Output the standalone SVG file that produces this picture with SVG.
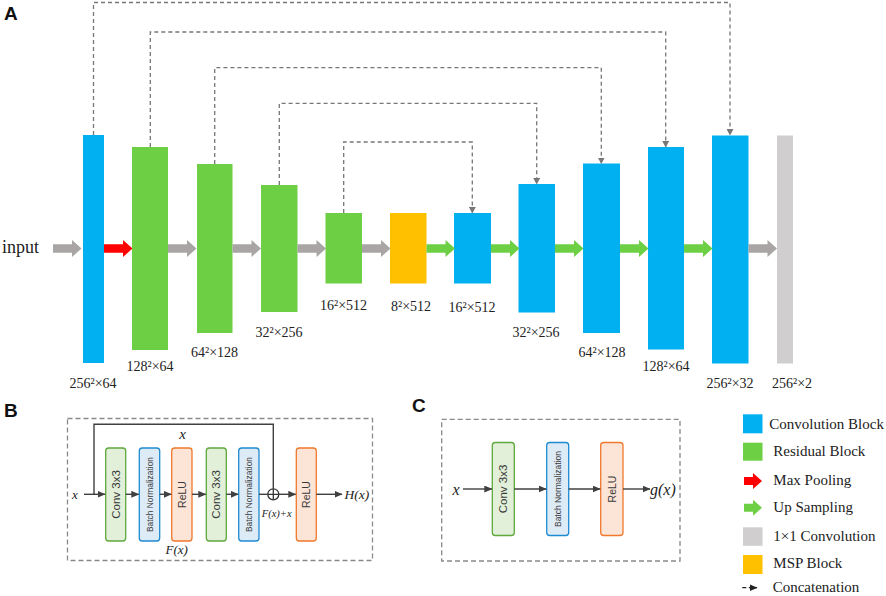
<svg xmlns="http://www.w3.org/2000/svg" xmlns:xlink="http://www.w3.org/1999/xlink" width="886" height="596" viewBox="0 0 886 596">
<style>
.blue{fill:#00B0F0}
.green{fill:#6CCF44}
.yellow{fill:#FFC000}
.gbar{fill:#D0CECE}
.lbl{font-family:"Liberation Serif",serif;font-size:14px;fill:#222;text-anchor:middle}
.leg{font-family:"Liberation Serif",serif;font-size:15px;fill:#222}
.panel{font-family:"Liberation Sans",Arial,sans-serif;font-weight:bold;font-size:19px;fill:#111}
.concat{fill:none;stroke:#777;stroke-width:1.3;stroke-dasharray:4,3}
.frame{fill:none;stroke:#8a8a8a;stroke-width:1.3;stroke-dasharray:5,3}
.ln{fill:none;stroke:#404040;stroke-width:1.4}
.bg{fill:#E2F0D9;stroke:#5EA83C;stroke-width:1.3}
.bb{fill:#DDEBF7;stroke:#1E8AD2;stroke-width:1.3}
.bo{fill:#FCE4D6;stroke:#F0782D;stroke-width:1.3}
.bt{font-family:"Liberation Sans",Arial,sans-serif;fill:#3a3a3a;text-anchor:middle;dominant-baseline:central}
.it{font-family:"Liberation Serif",serif;font-style:italic;fill:#222}
</style>
<defs>
<path id="arr" d="M0,-4.3 H19 V-8.5 L28.5,0 L19,8.5 V4.3 H0 Z"/>
<marker id="mc" markerUnits="userSpaceOnUse" markerWidth="7" markerHeight="7" refX="3.5" refY="6" orient="0" viewBox="0 0 7 7">
<path d="M0,0 L7,0 L3.5,6.5 Z" fill="#777"/>
</marker>
<marker id="ma" markerUnits="userSpaceOnUse" markerWidth="8" markerHeight="7" refX="7.5" refY="3.5" orient="auto" viewBox="0 0 8 7">
<path d="M0,0 L8,3.5 L0,7 Z" fill="#404040"/>
</marker>
<marker id="ml" markerUnits="userSpaceOnUse" markerWidth="8" markerHeight="7" refX="7.5" refY="3.5" orient="auto" viewBox="0 0 8 7">
<path d="M0,0 L8,3.5 L0,7 Z" fill="#222"/>
</marker>
</defs>
<rect width="886" height="596" fill="#fff"/>

<text class="panel" x="4" y="20">A</text>
<text class="panel" x="4" y="417">B</text>
<text class="panel" x="412" y="412">C</text>

<text x="2" y="253" font-family="Liberation Serif,serif" font-size="18" fill="#222">input</text>

<g id="enc1"><rect class="blue" x="83" y="135" width="21" height="228"/><text class="lbl" x="93" y="388">256²×64</text></g>
<g id="enc2"><rect class="green" x="132" y="147" width="36" height="203"/><text class="lbl" x="150" y="371">128²×64</text></g>
<g id="enc3"><rect class="green" x="197" y="164" width="35.5" height="169"/><text class="lbl" x="214.5" y="357">64²×128</text></g>
<g id="enc4"><rect class="green" x="261" y="185" width="36.5" height="127"/><text class="lbl" x="279" y="337">32²×256</text></g>
<g id="enc5"><rect class="green" x="325.5" y="213" width="36.5" height="70.5"/><text class="lbl" x="343.5" y="310">16²×512</text></g>
<g id="msp"><rect class="yellow" x="390" y="213" width="36.5" height="70.5"/><text class="lbl" x="411" y="311">8²×512</text></g>
<g id="dec1"><rect class="blue" x="454" y="213" width="37" height="70.5"/><text class="lbl" x="472" y="311.5">16²×512</text></g>
<g id="dec2"><rect class="blue" x="518.5" y="184" width="36.5" height="128.5"/><text class="lbl" x="536" y="337">32²×256</text></g>
<g id="dec3"><rect class="blue" x="583" y="163.5" width="37" height="169.5"/><text class="lbl" x="602" y="357">64²×128</text></g>
<g id="dec4"><rect class="blue" x="648" y="147" width="36" height="202.5"/><text class="lbl" x="666" y="370.5">128²×64</text></g>
<g id="dec5"><rect class="blue" x="712" y="135.5" width="36.5" height="228"/><text class="lbl" x="730" y="388">256²×32</text></g>
<g id="out"><rect class="gbar" x="777" y="135.5" width="16" height="228"/><text class="lbl" x="792" y="388">256²×2</text></g>

<g id="connectors">
<use xlink:href="#arr" x="53" y="248.5" fill="#A9A5A5"/>
<use xlink:href="#arr" x="104" y="248.5" fill="#FF0000"/>
<use xlink:href="#arr" x="168" y="248.5" fill="#A9A5A5"/>
<use xlink:href="#arr" x="232.5" y="248.5" fill="#A9A5A5"/>
<use xlink:href="#arr" x="297.5" y="248.5" fill="#A9A5A5"/>
<use xlink:href="#arr" x="362" y="248.5" fill="#A9A5A5"/>
<use xlink:href="#arr" x="426.5" y="248.5" fill="#6CCF44"/>
<use xlink:href="#arr" x="491" y="248.5" fill="#6CCF44"/>
<use xlink:href="#arr" x="555" y="248.5" fill="#6CCF44"/>
<use xlink:href="#arr" x="620" y="248.5" fill="#6CCF44"/>
<use xlink:href="#arr" x="684" y="248.5" fill="#6CCF44"/>
<use xlink:href="#arr" x="748.5" y="248.5" fill="#A9A5A5"/>

<path class="concat" d="M93.5,135 V2.5 H730 V135" marker-end="url(#mc)"/>
<path class="concat" d="M150.3,147 V32 H665.7 V147" marker-end="url(#mc)"/>
<path class="concat" d="M214.7,164 V67.7 H601.3 V163.5" marker-end="url(#mc)"/>
<path class="concat" d="M279.3,185 V103.3 H536.7 V184" marker-end="url(#mc)"/>
<path class="concat" d="M343.7,213 V142 H472.3 V213" marker-end="url(#mc)"/>
</g>

<g id="panelB">
<rect class="frame" x="67.5" y="418.5" width="305" height="142"/>
<g id="b-conv1"><rect class="bg" x="105.7" y="448" width="20" height="93" rx="3"/><text class="bt" font-size="11.5" transform="translate(115.7,494.5) rotate(-90)">Conv 3x3</text></g>
<g id="b-bn1"><rect class="bb" x="139.3" y="448" width="20.4" height="93" rx="3"/><text class="bt" font-size="8.4" transform="translate(149.5,494.5) rotate(-90)">Batch Normalization</text></g>
<g id="b-relu1"><rect class="bo" x="171.7" y="448" width="20.3" height="93" rx="3"/><text class="bt" font-size="10.5" transform="translate(181.9,494.5) rotate(-90)">ReLU</text></g>
<g id="b-conv2"><rect class="bg" x="206.3" y="448" width="20" height="93" rx="3"/><text class="bt" font-size="11.5" transform="translate(216.3,494.5) rotate(-90)">Conv 3x3</text></g>
<g id="b-bn2"><rect class="bb" x="238.7" y="448" width="20.3" height="93" rx="3"/><text class="bt" font-size="8.4" transform="translate(248.9,494.5) rotate(-90)">Batch Normalization</text></g>
<g id="b-add"><circle cx="273.3" cy="494.3" r="5.5" fill="none" stroke="#333" stroke-width="1.3"/><path d="M267.8,494.3 H278.8 M273.3,488.8 V499.8" stroke="#333" stroke-width="1.3"/></g>
<g id="b-relu2"><rect class="bo" x="296.3" y="448" width="20" height="93" rx="3"/><text class="bt" font-size="10.5" transform="translate(306.3,494.5) rotate(-90)">ReLU</text></g>
<text class="it" x="75" y="498.5" font-size="13" text-anchor="middle">x</text>
<text class="it" x="182.7" y="439" font-size="15" text-anchor="middle">x</text>
<text class="it" x="176.7" y="554" font-size="13" text-anchor="middle">F(x)</text>
<text class="it" x="276.7" y="517" font-size="10.5" text-anchor="middle">F(x)+x</text>
<text class="it" x="344.5" y="499" font-size="13.5">H(x)</text>
<g id="b-conn">
<path class="ln" d="M84,494.3 H105" marker-end="url(#ma)"/>
<path class="ln" d="M94,494.3 V424.3 H273.3 V488.8"/>
<path class="ln" d="M125.7,494.3 H138.8" marker-end="url(#ma)"/>
<path class="ln" d="M159.7,494.3 H171.2" marker-end="url(#ma)"/>
<path class="ln" d="M192,494.3 H205.8" marker-end="url(#ma)"/>
<path class="ln" d="M226.3,494.3 H238.2" marker-end="url(#ma)"/>
<path class="ln" d="M259,494.3 H267.8"/>
<path class="ln" d="M278.8,494.3 H295.8" marker-end="url(#ma)"/>
<path class="ln" d="M316.3,494.3 H342" marker-end="url(#ma)"/>
</g>
</g>

<g id="panelC">
<rect class="frame" x="441.7" y="419.3" width="238.3" height="141.7"/>
<g id="c-conv"><rect class="bg" x="492.3" y="442.5" width="22" height="93" rx="3"/><text class="bt" font-size="11.5" transform="translate(503.3,489) rotate(-90)">Conv 3x3</text></g>
<g id="c-bn"><rect class="bb" x="546.7" y="442.5" width="22" height="93" rx="3"/><text class="bt" font-size="8.5" transform="translate(557.7,489) rotate(-90)">Batch Normalization</text></g>
<g id="c-relu"><rect class="bo" x="600.7" y="442.5" width="22.3" height="93" rx="3"/><text class="bt" font-size="10.5" transform="translate(611.8,489) rotate(-90)">ReLU</text></g>
<text class="it" x="456" y="495" font-size="16" text-anchor="middle">x</text>
<text class="it" x="650" y="495" font-size="16">g(x)</text>
<g id="c-conn">
<path class="ln" d="M463,489 H491.8" marker-end="url(#ma)"/>
<path class="ln" d="M514.3,489 H546.2" marker-end="url(#ma)"/>
<path class="ln" d="M568.7,489 H600.2" marker-end="url(#ma)"/>
<path class="ln" d="M623,489 H650" marker-end="url(#ma)"/>
</g>
</g>

<g id="legend">
<rect class="blue" x="743" y="414.3" width="19.5" height="19"/>
<text class="leg" x="769.3" y="428.5">Convolution Block</text>
<rect class="green" x="743" y="442.7" width="19.5" height="18"/>
<text class="leg" x="773.3" y="456">Residual Block</text>
<path d="M744,477 H753 V473 L762,481 L753,489 V485 H744 Z" fill="#FF0000"/>
<text class="leg" x="773.3" y="485">Max Pooling</text>
<path d="M744,503.7 H753 V499.7 L762,507.7 L753,515.7 V511.7 H744 Z" fill="#6CCF44"/>
<text class="leg" x="773.3" y="512.3">Up Sampling</text>
<rect class="gbar" x="743" y="527.3" width="19.5" height="18.5"/>
<text class="leg" x="773.3" y="540.7">1×1 Convolution</text>
<rect class="yellow" x="743" y="555" width="19.5" height="19"/>
<text class="leg" x="773.3" y="568.3">MSP Block</text>
<path d="M742.3,587.7 H757" fill="none" stroke="#222" stroke-width="1.3" stroke-dasharray="4,2.5" marker-end="url(#ml)"/>
<text class="leg" x="772.7" y="592.3">Concatenation</text>
</g>
</svg>
